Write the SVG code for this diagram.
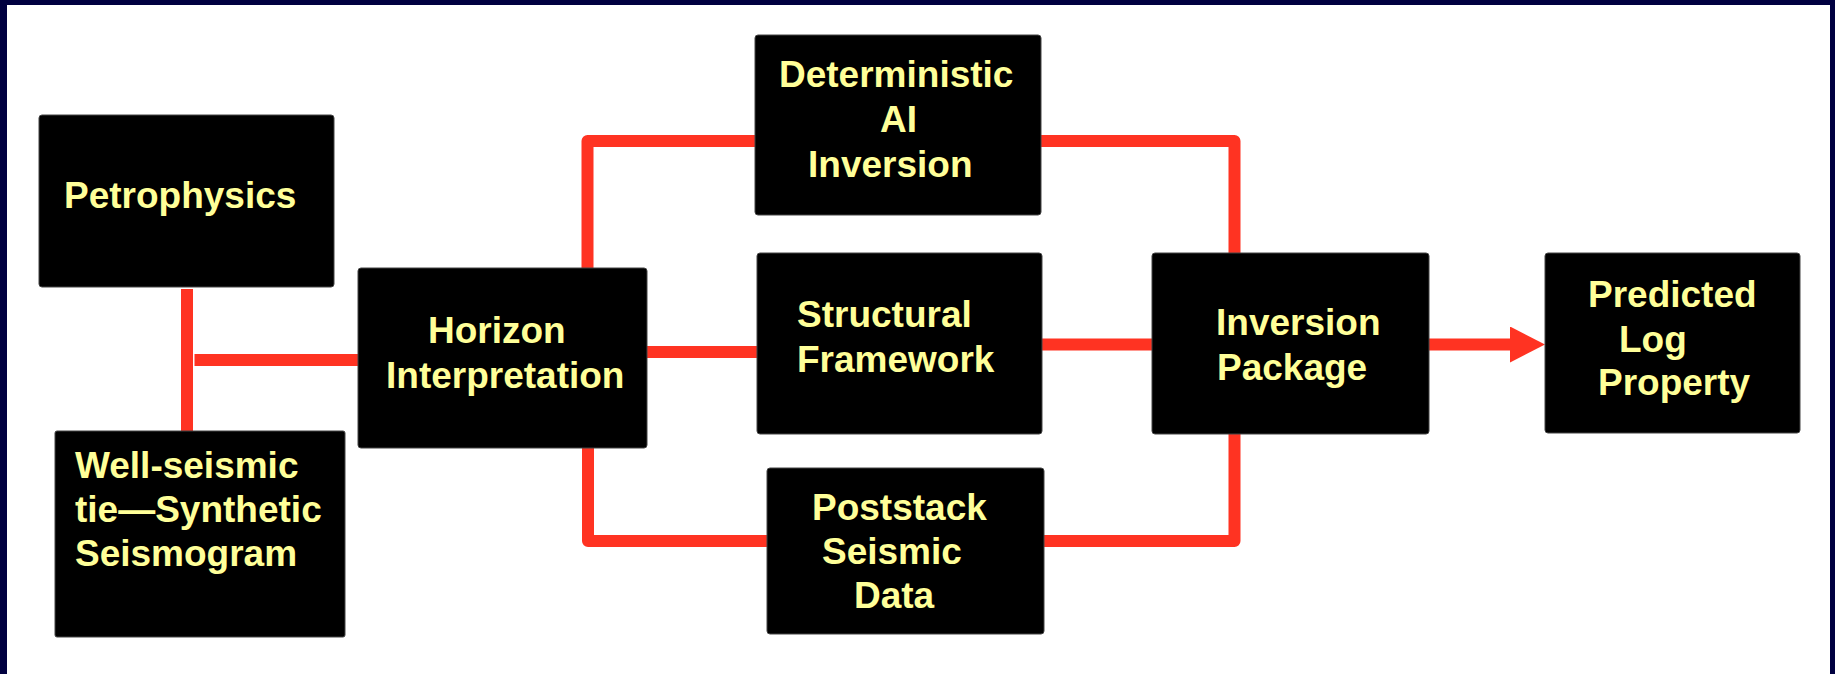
<svg xmlns="http://www.w3.org/2000/svg" width="1835" height="674" viewBox="0 0 1835 674">
<style>
.box{fill:#000;stroke:#444;stroke-width:1}
.lbl{font-family:"Liberation Sans",Arial,sans-serif;font-weight:bold;font-size:37px;fill:#FFFF99}
.con{fill:none;stroke:#FF3322;stroke-width:12;stroke-linejoin:round}
</style>
<defs>
<marker id="ah" markerUnits="userSpaceOnUse" markerWidth="35" markerHeight="36" viewBox="0 0 35 36" refX="0" refY="18" orient="auto">
<path d="M0 0 L35 18 L0 36 Z" fill="#FF3322"/>
</marker>
</defs>
<rect x="0" y="0" width="1835" height="674" fill="#000040"/>
<rect x="7" y="5" width="1823" height="669" fill="#FFFFFF"/>
<g id="connectors">
<path class="con" d="M187 289 V432"/>
<path class="con" d="M194.5 360 H358"/>
<path class="con" d="M587.5 268 V141 H755"/>
<path class="con" d="M588 448 V541 H767"/>
<path class="con" d="M647 352 H757"/>
<path class="con" d="M1041 141 H1234.5 V253"/>
<path class="con" d="M1042 344.5 H1152"/>
<path class="con" d="M1044 541 H1234.5 V434"/>
<path class="con" d="M1429 344.5 H1510" marker-end="url(#ah)"/>
</g>
<g id="petrophysics">
<rect class="box" x="39" y="115" width="295" height="172" rx="3"/>
<text class="lbl" x="64" y="208">Petrophysics</text>
</g>
<g id="well-seismic">
<rect class="box" x="55" y="431" width="290" height="206" rx="2"/>
<text class="lbl" x="75" y="478">Well-seismic</text>
<text class="lbl" x="75" y="522">tie—Synthetic</text>
<text class="lbl" x="75" y="566">Seismogram</text>
</g>
<g id="horizon">
<rect class="box" x="358" y="268" width="289" height="180" rx="3"/>
<text class="lbl" x="428" y="343">Horizon</text>
<text class="lbl" x="386" y="388">Interpretation</text>
</g>
<g id="deterministic">
<rect class="box" x="755" y="35" width="286" height="180" rx="3"/>
<text class="lbl" x="779" y="87">Deterministic</text>
<text class="lbl" x="880" y="132">AI</text>
<text class="lbl" x="808" y="177">Inversion</text>
</g>
<g id="structural">
<rect class="box" x="757" y="253" width="285" height="181" rx="3"/>
<text class="lbl" x="797" y="327">Structural</text>
<text class="lbl" x="797" y="372">Framework</text>
</g>
<g id="poststack">
<rect class="box" x="767" y="468" width="277" height="166" rx="3"/>
<text class="lbl" x="812" y="520">Poststack</text>
<text class="lbl" x="822" y="564">Seismic</text>
<text class="lbl" x="854" y="608">Data</text>
</g>
<g id="package">
<rect class="box" x="1152" y="253" width="277" height="181" rx="3"/>
<text class="lbl" x="1216" y="335">Inversion</text>
<text class="lbl" x="1217" y="380">Package</text>
</g>
<g id="predicted">
<rect class="box" x="1545" y="253" width="255" height="180" rx="3"/>
<text class="lbl" x="1588" y="307">Predicted</text>
<text class="lbl" x="1619" y="352">Log</text>
<text class="lbl" x="1598" y="395">Property</text>
</g>
</svg>
